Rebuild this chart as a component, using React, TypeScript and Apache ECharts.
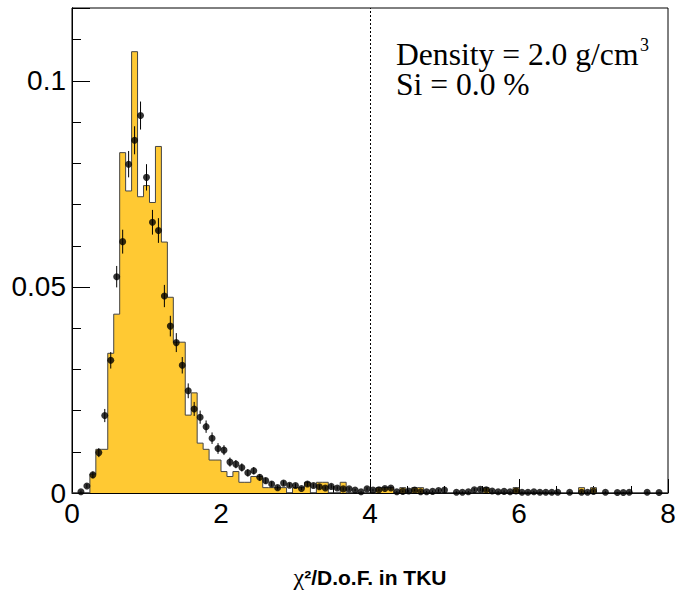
import React, { useEffect, useRef } from "react";
import * as echarts from "echarts";

// Histogram binning (x axis: chi2/DoF in TKU)
const X_MIN = 0;
const X_MAX = 8;
const N_BINS = 100;
const Y_MAX = 0.1177;

// MC histogram (yellow), one value per bin
const histValues: number[] = [
  0, 0, 0, 0.0046, 0.0106, 0.0106, 0.0339, 0.0434, 0.0826, 0.0733,
  0.1071, 0.0719, 0.0746, 0.0705, 0.0841, 0.0609, 0.0475, 0.0366, 0.0366, 0.0189,
  0.0243, 0.0121, 0.0106, 0.008, 0.008, 0.0052, 0.004, 0.0052, 0.0026, 0.0026,
  0.004, 0.004, 0.0013, 0.0013, 0.0013, 0.0013, 0, 0.0013, 0.0013, 0.0026,
  0, 0.0026, 0.0026, 0, 0, 0.0026, 0, 0, 0, 0,
  0, 0.0013, 0.0013, 0.0013, 0, 0.0013, 0, 0.0013, 0.0013, 0,
  0, 0, 0, 0, 0, 0, 0, 0, 0, 0.0013,
  0, 0, 0, 0, 0.0013, 0, 0, 0, 0, 0,
  0, 0, 0, 0, 0, 0.0013, 0, 0.0013, 0, 0,
  0, 0, 0, 0, 0, 0, 0, 0, 0, 0,
];

// Data points (black markers), one value per bin (null = empty bin)
const dataValues: (number | null)[] = [
  null, 0.0003, 0.0017, 0.0044, 0.0098, 0.0188, 0.0322, 0.0525, 0.061, 0.0798,
  0.0856, 0.0916, 0.0766, 0.0657, 0.0637, 0.0478, 0.0405, 0.0365, 0.031, 0.0248,
  0.0204, 0.0184, 0.0161, 0.0133, 0.0108, 0.0104, 0.0075, 0.007, 0.0062, 0.0049,
  0.0054, 0.0038, 0.003, 0.0022, 0.0013, 0.0024, 0.0019, 0.0018, 0.0011, 0.0022,
  0.0018, 0.0015, 0.0012, 0.0016, 0.0012, 0.001, 0.001, 0.0007, 0.0003, 0.001,
  0.0007, 0.0008, 0.0011, 0.0012, 0.0003, 0.0004, 0.0005, 0.0007, 0.0003, 0.0003,
  0.0004, 0.0006, 0.0007, null, 0.0002, 0.0002, 0.0003, 0.0008, 0.0009, 0.0008,
  0.0005, 0.0003, 0.0004, 0.0003, 0.0005, 0.0002, 0.0002, 0.0003, 0.0002, 0.0002,
  0.0002, 0.0002, null, 0.0002, null, 0.0002, 0.0002, 0.0004, null, 0.0002,
  null, 0.0001, 0.0001, 0.0002, null, null, 0.0002, null, 0.0001, null,
];

// Statistical errors of the data points
const dataErrors: number[] = [
  0, 0.0003, 0.0005, 0.0008, 0.0011, 0.0016, 0.002, 0.0026, 0.0029, 0.0032,
  0.0034, 0.0034, 0.0032, 0.003, 0.003, 0.0027, 0.0025, 0.0023, 0.002, 0.0018,
  0.0017, 0.0016, 0.0015, 0.0014, 0.0013, 0.0012, 0.0011, 0.001, 0.001, 0.0009,
  0.0009, 0.0008, 0.0007, 0.0006, 0.0005, 0.0006, 0.0005, 0.0005, 0.0004, 0.0006,
  0.0005, 0.0005, 0.0004, 0.0005, 0.0004, 0.0004, 0.0004, 0.0003, 0.0002, 0.0004,
  0.0003, 0.0003, 0.0004, 0.0004, 0.0002, 0.0002, 0.0003, 0.0003, 0.0002, 0.0002,
  0.0002, 0.0003, 0.0003, 0, 0.0002, 0.0002, 0.0002, 0.0004, 0.0004, 0.0004,
  0.0003, 0.0002, 0.0002, 0.0002, 0.0003, 0.0002, 0.0002, 0.0002, 0.0002, 0.0002,
  0.0002, 0.0002, 0, 0.0002, 0, 0.0002, 0.0002, 0.0003, 0, 0.0002,
  0, 0.0001, 0.0001, 0.0002, 0, 0, 0.0002, 0, 0.0001, 0,
];

const cutValue = 4;
const yTickLabels = ["0", "0.05", "0.1"];
const annotationLine1 = "Density = 2.0 g/cm";
const annotationSup = "3";
const annotationLine2 = "Si = 0.0 %";

export default function App() {
  const ref = useRef<HTMLDivElement>(null);

  useEffect(() => {
    if (!ref.current) return;
    const chart = echarts.init(ref.current, undefined, { renderer: "svg" });
    const w = (X_MAX - X_MIN) / N_BINS;

    const stepData: number[][] = histValues.map((v, i) => [X_MIN + i * w, v]);
    stepData.push([X_MAX, histValues[N_BINS - 1]]);

    const pts: number[][] = [];
    const errs: number[][] = [];
    dataValues.forEach((v, i) => {
      if (v === null) return;
      const c = X_MIN + (i + 0.5) * w;
      pts.push([c, v]);
      errs.push([c, v - dataErrors[i], v + dataErrors[i]]);
    });

    const sans = "Liberation Sans, Arial, sans-serif";
    const serif = "Liberation Serif, Times New Roman, serif";

    const yLabelFmt = (v: number) => {
      const r = Math.round(v / 0.05);
      if (Math.abs(v / 0.05 - r) > 1e-6 || r > 2) return "";
      return yTickLabels[r];
    };

    chart.setOption({
      animation: false,
      backgroundColor: "#fff",
      grid: {
        left: 72,
        right: 8,
        top: 8,
        bottom: 98,
        show: true,
        borderColor: "#000",
        borderWidth: 1,
        backgroundColor: "transparent",
        containLabel: false,
        outerBoundsMode: "none",
      },
      xAxis: {
        type: "value",
        min: X_MIN,
        max: X_MAX,
        interval: 2,
        axisLine: { show: true, lineStyle: { color: "#000", width: 1 } },
        axisTick: { show: true, inside: true, length: 14, lineStyle: { color: "#000" } },
        minorTick: { show: true, splitNumber: 4, length: 7, lineStyle: { color: "#000" } },
        splitLine: { show: false },
        axisLabel: { color: "#000", fontFamily: sans, fontSize: 28, margin: 6 },
        name: "{c|χ}²/D.o.F. in TKU",
        nameLocation: "middle",
        nameGap: 72,
        nameTextStyle: {
          color: "#000",
          fontFamily: sans,
          fontWeight: "bold",
          fontSize: 21,
          rich: {
            c: { fontFamily: serif, fontWeight: "normal", fontSize: 24, color: "#000" },
          },
        },
      },
      yAxis: [
        {
          type: "value",
          min: 0,
          max: Y_MAX,
          interval: 0.01,
          axisLine: { show: true, lineStyle: { color: "#000", width: 1 } },
          axisTick: { show: true, inside: true, length: 9, lineStyle: { color: "#000" } },
          axisLabel: { show: false },
          splitLine: { show: false },
        },
        {
          type: "value",
          min: 0,
          max: Y_MAX,
          interval: 0.05,
          position: "left",
          axisLine: { show: true, lineStyle: { color: "#000", width: 1 } },
          axisTick: { show: true, inside: true, length: 18, lineStyle: { color: "#000" } },
          axisLabel: {
            color: "#000",
            fontFamily: sans,
            fontSize: 28,
            margin: 6,
            formatter: yLabelFmt,
          },
          splitLine: { show: false },
        },
      ],
      series: [
        {
          type: "line",
          step: "end",
          data: stepData,
          symbol: "none",
          lineStyle: { color: "#444", width: 1 },
          areaStyle: { color: "#ffc933", opacity: 1 },
          z: 2,
        },
        {
          type: "custom",
          data: errs,
          encode: { x: 0, y: [1, 2] },
          renderItem: (_params: any, api: any) => {
            const x = api.value(0);
            const p1 = api.coord([x, api.value(1)]);
            const p2 = api.coord([x, api.value(2)]);
            return {
              type: "line",
              shape: { x1: p1[0], y1: p1[1], x2: p2[0], y2: p2[1] },
              style: { stroke: "#000", lineWidth: 1 },
            };
          },
          z: 3,
        },
        {
          type: "scatter",
          data: pts,
          symbol: "circle",
          symbolSize: 7,
          itemStyle: { color: "#000" },
          z: 4,
          markLine: {
            silent: true,
            symbol: ["none", "none"],
            label: { show: false },
            lineStyle: { color: "#000", type: [2, 2], width: 1 },
            data: [{ xAxis: cutValue }],
          },
        },
      ],
      graphic: [
        {
          type: "text",
          style: {
            x: 396,
            y: 54,
            text: annotationLine1,
            font: `31.6px ${serif}`,
            lineHeight: 28,
            fill: "#000",
            verticalAlign: "middle",
          },
        },
        {
          type: "text",
          style: {
            x: 640,
            y: 45,
            text: annotationSup,
            font: `18px ${serif}`,
            lineHeight: 16,
            fill: "#000",
            verticalAlign: "middle",
          },
        },
        {
          type: "text",
          style: {
            x: 396,
            y: 84,
            text: annotationLine2,
            font: `31.6px ${serif}`,
            lineHeight: 28,
            fill: "#000",
            verticalAlign: "middle",
          },
        },
      ],
    });

    return () => chart.dispose();
  }, []);

  return (
    <div
      ref={ref}
      style={{ position: "absolute", left: 0, top: 0, width: 676, height: 591 }}
    />
  );
}
